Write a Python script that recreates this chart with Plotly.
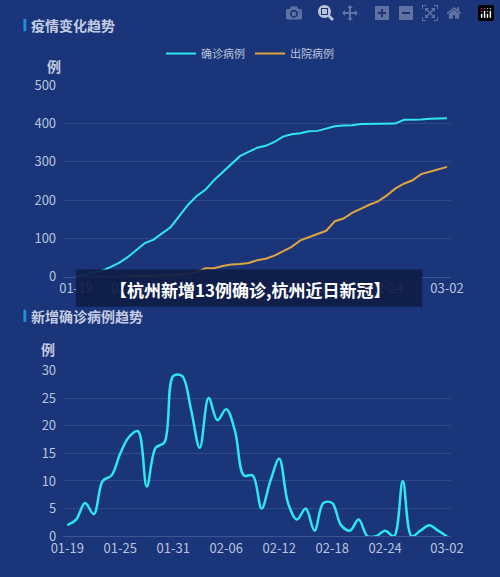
import numpy as np
import plotly.graph_objects as go

dates = ['01-19', '01-25', '01-31', '02-06', '02-12', '02-18', '02-24', '03-02']
tick_idx = [0, 6, 12, 18, 24, 30, 36, 43]

new_cases = [2, 3, 6, 4, 10, 11, 15, 18, 19, 9, 16, 17, 29, 29, 23, 16, 25, 21, 23, 19,
             11, 11, 5, 10, 14, 6, 3, 5, 1, 6, 6, 2, 1, 3, 0, 0, 1, 0, 10, 0, 1, 2, 1, 0]
confirmed = list(np.cumsum(new_cases))
discharged = [0, 0, 0, 0, 1, 1, 1, 2, 2, 3, 3, 4, 5, 8, 12, 22, 22, 28, 32, 33, 36, 43,
              47, 55, 66, 78, 95, 104, 112, 120, 145, 152, 167, 178, 188, 197, 212, 230,
              243, 252, 268, 274, 280, 287]
days = list(range(len(new_cases)))

bg = '#1a3579'
cyan = '#2ee8ef'
orange = '#e0a43f'
tick_font = dict(family='Noto Sans CJK SC', size=13, color='#b9c4dd')

fig = go.Figure()
fig.add_trace(go.Scatter(x=days, y=confirmed, name='确诊病例', mode='lines',
                         line=dict(color=cyan, width=2), xaxis='x', yaxis='y'))
fig.add_trace(go.Scatter(x=days, y=discharged, name='出院病例', mode='lines',
                         line=dict(color=orange, width=2), xaxis='x', yaxis='y'))
fig.add_trace(go.Scatter(x=days, y=new_cases, mode='lines', showlegend=False,
                         line=dict(color=cyan, width=2.5, shape='spline', smoothing=1),
                         xaxis='x2', yaxis='y2'))

grid = '#2d4a8c'
fig.update_layout(
    width=500, height=577, paper_bgcolor=bg, plot_bgcolor=bg,
    margin=dict(l=0, r=0, t=0, b=0),
    xaxis=dict(domain=[0.107, 0.923], range=[-1.5, 43.5], tickvals=tick_idx, ticktext=dates,
               showgrid=False, zeroline=False, showline=True, linecolor='#3a5697',
               tickfont=tick_font, anchor='y'),
    yaxis=dict(domain=[0.522, 0.865], range=[0, 500], dtick=100, gridcolor=grid,
               zeroline=False, tickfont=tick_font, anchor='x', ticksuffix='  '),
    xaxis2=dict(domain=[0.107, 0.923], range=[-0.5, 43.5], tickvals=tick_idx, ticktext=dates,
                showgrid=False, zeroline=False, showline=True, linecolor='#3a5697',
                tickfont=tick_font, anchor='y2'),
    yaxis2=dict(domain=[0.057, 0.354], range=[0, 30], dtick=5, gridcolor=grid,
                zeroline=False, tickfont=tick_font, anchor='x2', ticksuffix='  '),
    legend=dict(orientation='h', x=0.5, xanchor='center', y=0.922, yanchor='middle',
                font=dict(family='Noto Sans CJK SC', size=11, color='#b9c4dd'),
                bgcolor='rgba(0,0,0,0)'),
    showlegend=True,
)

ann = dict(font=dict(family='Noto Sans CJK SC', size=14, color='#c3cce2'), showarrow=False,
           xref='paper', yref='paper')
fig.add_annotation(text='<b>疫情变化趋势</b>', x=0.036, y=0.973, xanchor='left', yanchor='middle', **ann)
fig.add_annotation(text='<b>新增确诊病例趋势</b>', x=0.036, y=0.452, xanchor='left', yanchor='middle', **ann)
fig.add_annotation(text='<b>例</b>', x=0.088, y=0.9, xanchor='center', yanchor='middle', **ann)
fig.add_annotation(text='<b>例</b>', x=0.075, y=0.392, xanchor='center', yanchor='middle', **ann)
for y0 in (0.962, 0.441):
    fig.add_shape(type='rect', xref='paper', yref='paper', x0=0.024, x1=0.03, y0=y0, y1=y0 + 0.022,
                  fillcolor='#1e90d8', line_width=0)

fig.add_shape(type='rect', xref='paper', yref='paper', x0=0.134, x1=0.862, y0=0.468, y1=0.535,
              fillcolor='rgba(15,28,70,0.92)', line_width=0)
fig.add_annotation(text='<b>【杭州新增13例确诊,杭州近日新冠】</b>', x=0.5, y=0.5, xanchor='center',
                   yanchor='middle', xref='paper', yref='paper', showarrow=False,
                   font=dict(family='Noto Sans CJK SC', size=17, color='white'))

fig.write_html('out.html', post_script="document.body.style.margin='0';")
